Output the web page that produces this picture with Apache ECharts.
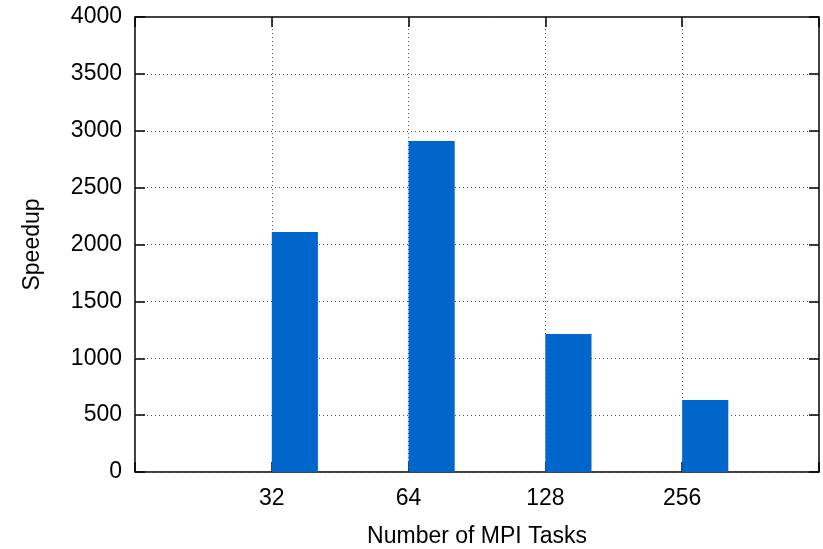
<!DOCTYPE html>
<html>
<head>
<meta charset="utf-8">
<script src="https://cdn.jsdelivr.net/npm/echarts@6/dist/echarts.min.js"></script>
<style>
html, body { margin: 0; padding: 0; background: #fff; }
#chart { width: 823px; height: 549px; }
</style>
</head>
<body>
<div id="chart"></div>
<script>
// number of MPI tasks vs speedup
var tasks = ['32', '64', '128', '256'];
var speedup = [2110, 2910, 1213, 633];
var yTicks = [0, 500, 1000, 1500, 2000, 2500, 3000, 3500, 4000];

var font = 'Liberation Sans';
var barColor = '#0066cc';

var chart = echarts.init(document.getElementById('chart'));

function taskLabel(v) {
    var i = Math.round(v) - 1;
    return (i >= 0 && i < tasks.length) ? tasks[i] : '';
}

var seriesData = [];
for (var i = 0; i < speedup.length; i++) {
    seriesData.push([i + 1, speedup[i]]);
}

var tick = { show: true, inside: true, length: 10, lineStyle: { color: '#000', width: 1.5 } };

chart.setOption({
    animation: false,
    grid: {
        left: 135, right: 4, top: 17, bottom: 77,
        outerBoundsMode: 'none',
        show: true, borderColor: '#000', borderWidth: 1.5,
        backgroundColor: 'transparent'
    },
    xAxis: [{
        type: 'value', min: 0, max: 5, interval: 1,
        name: 'Number of MPI Tasks', nameLocation: 'middle', nameGap: 53,
        nameTextStyle: { fontFamily: font, fontSize: 23, color: '#000' },
        axisLine: { show: false, onZero: false },
        axisTick: tick,
        axisLabel: { fontFamily: font, fontSize: 23, color: '#000', margin: 15, formatter: taskLabel },
        splitLine: { show: true, lineStyle: { color: '#555', type: [1, 3], width: 1 } }
    }, {
        type: 'value', min: 0, max: 5, interval: 1, position: 'top',
        axisLine: { show: false, onZero: false },
        axisTick: tick,
        axisLabel: { show: false },
        splitLine: { show: false }
    }],
    yAxis: [{
        type: 'value', min: yTicks[0], max: yTicks[yTicks.length - 1], interval: 500,
        name: 'Speedup', nameLocation: 'middle', nameGap: 91,
        nameTextStyle: { fontFamily: font, fontSize: 23, color: '#000' },
        axisLine: { show: false, onZero: false },
        axisTick: tick,
        axisLabel: { fontFamily: font, fontSize: 23, color: '#000', margin: 13, formatter: function (v) { return String(v); } },
        splitLine: { show: true, lineStyle: { color: '#555', type: [1, 3], width: 1 } }
    }, {
        type: 'value', min: yTicks[0], max: yTicks[yTicks.length - 1], interval: 500, position: 'right',
        axisLine: { show: false, onZero: false },
        axisTick: tick,
        axisLabel: { show: false },
        splitLine: { show: false }
    }],
    series: [{
        type: 'custom',
        data: seriesData,
        renderItem: function (params, api) {
            var top = api.coord([api.value(0), api.value(1)]);
            var base = api.coord([api.value(0), 0]);
            var w = api.size([0.337, 0])[0];
            return {
                type: 'rect',
                shape: { x: top[0], y: top[1], width: w, height: base[1] - top[1] },
                style: { fill: barColor }
            };
        }
    }]
});
</script>
</body>
</html>
